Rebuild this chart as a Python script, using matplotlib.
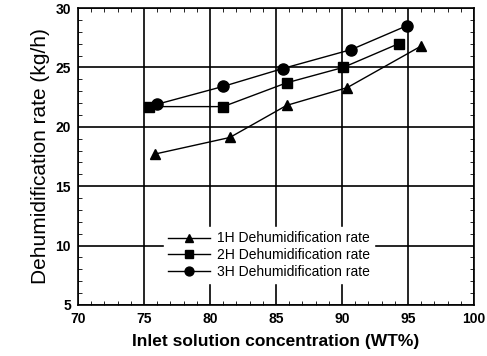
import matplotlib.pyplot as plt
from matplotlib.ticker import MultipleLocator

plt.rcParams['font.family'] = ['Liberation Sans', 'DejaVu Sans']
plt.rcParams['font.weight'] = 'bold'

# inlet concentration (WT%) and dehumidification rate (kg/h)
x_1h = [75.8, 81.5, 85.8, 90.4, 96.0]
y_1h = [17.7, 19.1, 21.8, 23.3, 26.8]
x_2h = [75.4, 81.0, 85.8, 90.1, 94.3]
y_2h = [21.7, 21.7, 23.7, 25.0, 27.0]
x_3h = [76.0, 81.0, 85.5, 90.7, 94.9]
y_3h = [21.9, 23.4, 24.9, 26.5, 28.5]
labels = ["1H Dehumidification rate", "2H Dehumidification rate",
          "3H Dehumidification rate"]

fig = plt.figure(figsize=(4.87, 3.56), dpi=100)
ax = fig.add_axes([78/487, 1-305/356, (474-78)/487, (305-8)/356])

ax.plot(x_1h, y_1h, "k-^", lw=1, ms=7, label=labels[0])
ax.plot(x_2h, y_2h, "k-s", lw=1, ms=7, label=labels[1])
ax.plot(x_3h, y_3h, "k-o", lw=1, ms=8, label=labels[2])

ax.set_xlim(70, 100)
ax.set_ylim(5, 30)
ax.xaxis.set_major_locator(MultipleLocator(5))
ax.yaxis.set_major_locator(MultipleLocator(5))
ax.xaxis.set_minor_locator(MultipleLocator(1))
ax.yaxis.set_minor_locator(MultipleLocator(1))
ax.grid(True, which="major", color="black", lw=1.2)
ax.tick_params(which="both", direction="in", top=True, right=True, labelsize=10)
ax.tick_params(which="major", length=0, pad=5)
ax.tick_params(which="minor", length=3)
for s in ax.spines.values():
    s.set_linewidth(1.2)

ax.set_xlabel("Inlet solution concentration (WT%)", fontsize=12.5, fontweight="bold", labelpad=6)
ax.set_ylabel("Dehumidification rate (kg/h)", fontsize=15, fontweight="normal", labelpad=4)

leg = ax.legend(loc="lower left", bbox_to_anchor=(0.2, 0.05), fontsize=10,
                frameon=True, edgecolor="white", facecolor="white", framealpha=1,
                handlelength=3, borderpad=0.3, labelspacing=0.2, fancybox=False,
                markerscale=0.8, handletextpad=0.5)
for t in leg.get_texts():
    t.set_fontweight("normal")

fig.savefig("out.png", dpi=100)
